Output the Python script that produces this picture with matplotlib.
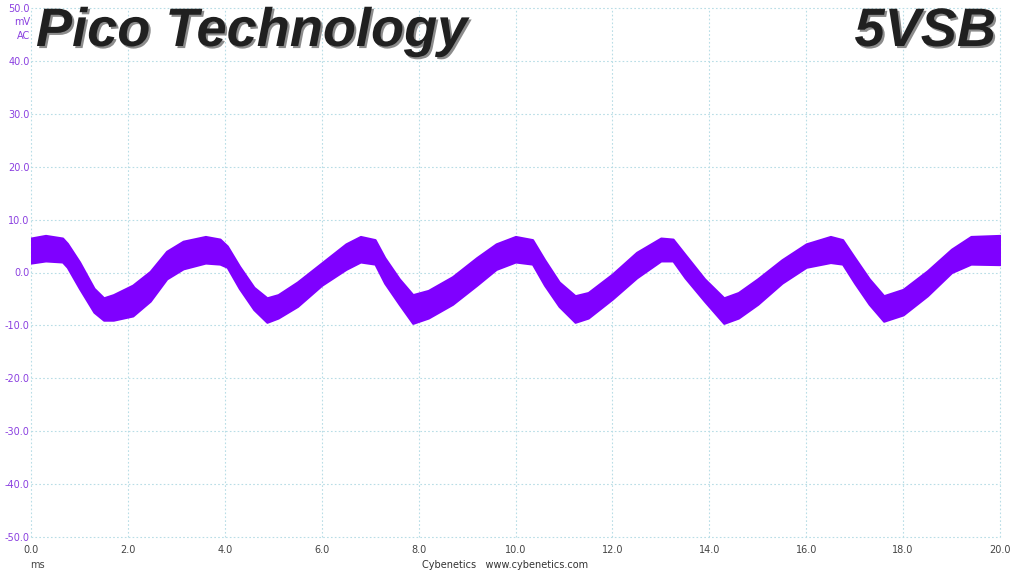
import matplotlib
matplotlib.use("Agg")
import matplotlib.pyplot as plt
import matplotlib.patheffects as pe
import numpy as np

# envelope of the noisy 5VSB ripple trace
t_ms = [0.0, 0.3, 0.65, 0.75, 1.0, 1.3, 1.5, 1.7, 2.1, 2.46, 2.8, 3.14,
        3.6, 3.9, 4.05, 4.3, 4.6, 4.87, 5.1, 5.5, 6.0, 6.5, 6.8, 7.1,
        7.3, 7.6, 7.88, 8.2, 8.7, 9.2, 9.6, 10.0, 10.35, 10.6, 10.9, 11.23,
        11.5, 12.0, 12.5, 13.0, 13.25, 13.5, 13.9, 14.3, 14.6, 15.0, 15.5, 16.0,
        16.5, 16.75, 17.0, 17.3, 17.6, 18.0, 18.5, 19.0, 19.4, 20.0]
upper_mv = [6.5, 7.0, 6.5, 5.5, 2.0, -3.0, -4.8, -4.2, -2.4, 0.2, 4.0, 5.9,
            6.8, 6.3, 5.0, 1.2, -2.8, -4.8, -4.2, -1.8, 1.8, 5.4, 6.8, 6.2,
            2.8, -1.2, -4.2, -3.4, -0.8, 2.8, 5.4, 6.8, 6.2, 2.4, -1.8, -4.4,
            -3.8, -0.3, 3.8, 6.5, 6.3, 3.4, -1.2, -4.8, -3.8, -1.2, 2.4, 5.4,
            6.8, 6.2, 2.8, -1.2, -4.4, -3.2, 0.3, 4.4, 6.8, 7.0]
lower_mv = [1.8, 2.2, 2.0, 1.0, -3.0, -7.5, -9.0, -9.0, -8.2, -5.4, -1.2, 0.7,
            1.8, 1.6, 1.0, -3.0, -7.0, -9.4, -8.6, -6.4, -2.4, 0.6, 2.0, 1.6,
            -2.0, -6.0, -9.6, -8.6, -6.0, -2.4, 0.6, 2.0, 1.6, -2.4, -6.4, -9.4,
            -8.6, -5.0, -1.0, 2.2, 2.2, -1.0, -5.4, -9.6, -8.6, -6.0, -2.0, 1.0,
            1.9, 1.6, -2.0, -6.0, -9.2, -8.0, -4.4, 0.0, 1.6, 1.5]

x_ticks = np.arange(0, 21, 2)
y_ticks = np.arange(-50, 51, 10)

fig = plt.figure(figsize=(10.15, 5.71), dpi=100)
ax = fig.add_axes([31/1015, 34/571, 969/1015, 529/571])

trace_col = '#7f00ff'
ax.fill_between(t_ms, lower_mv, upper_mv, color=trace_col, linewidth=1.6,
                edgecolor=trace_col, joinstyle='round')

ax.set_xlim(0, 20)
ax.set_ylim(-50, 50)
ax.set_xticks(x_ticks)
ax.set_yticks(y_ticks)
ax.set_xticklabels(['%.1f' % v for v in x_ticks])
ax.set_yticklabels(['%.1f' % v for v in y_ticks])
ax.tick_params(length=0, labelsize=7)
ax.tick_params(axis='y', colors='#8a3fe0', pad=1)
ax.tick_params(axis='x', colors='#444444', pad=6)
for s in ax.spines.values():
    s.set_visible(False)
ax.grid(True, color='#b8dde6', linestyle=(0, (1.5, 2)), linewidth=0.8)
for gl in ax.get_xgridlines() + ax.get_ygridlines():
    gl.set_clip_on(False)
ax.set_axisbelow(True)

# unit labels next to the top tick
fig.text(30/1015, 1 - 22/571, 'mV', ha='right', va='center', fontsize=7,
         color='#8a3fe0')
fig.text(30/1015, 1 - 36/571, 'AC', ha='right', va='center', fontsize=7,
         color='#8a3fe0')
fig.text(37/1015, 1 - 565/571, 'ms', ha='center', va='center', fontsize=7,
         color='#444444')
fig.text(505/1015, 1 - 565/571, 'Cybenetics   www.cybenetics.com', ha='center',
         va='center', fontsize=7, color='#333333')

# big headings
shadow = [pe.withSimplePatchShadow(offset=(1.5, -1.5), shadow_rgbFace='#8c8c8c', alpha=1.0)]
fig.text(36/1015, 1 - 32/571, 'Pico Technology', ha='left', va='center',
         fontsize=39, fontweight='bold', fontstyle='italic',
         family='Liberation Sans', color='#202020', path_effects=shadow)
fig.text(996/1015, 1 - 32/571, '5VSB', ha='right', va='center',
         fontsize=39, fontweight='bold', fontstyle='italic',
         family='Liberation Sans', color='#202020', path_effects=shadow)

plt.savefig('out.png', dpi=100)
